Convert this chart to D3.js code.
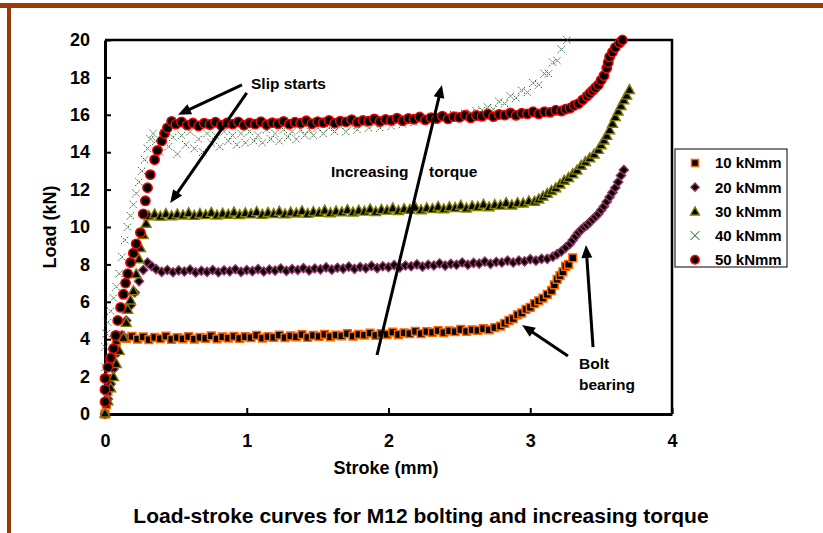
<!DOCTYPE html>
<html>
<head>
<meta charset="utf-8">
<script src="https://cdn.jsdelivr.net/npm/d3@7"></script>
<style>
  body { margin: 0; background: #fff; }
  svg { display: block; font-family: Arial, "Liberation Sans", sans-serif; font-weight: bold; }
</style>
</head>
<body>
<svg id="chart" width="823" height="533"></svg>
<script>
// axis ticks
const xTicks = [0, 1, 2, 3, 4]
const yTicks = [0, 2, 4, 6, 8, 10, 12, 14, 16, 18, 20]

const seriesNames = ['10 kNmm', '20 kNmm', '30 kNmm', '40 kNmm', '50 kNmm']

// stroke (mm), load (kN)
const load10 = [
  [0, 0], [0.01, 0.5], [0.02, 1.2], [0.03, 1.9], [0.04, 2.6], [0.06, 3.3], [0.08, 3.9], [0.11, 4.2],
  [0.15, 4.05], [0.19, 4.15], [0.23, 4.0], [0.27, 4.12], [0.31, 3.98], [0.35, 4.1], [0.39, 4.03], [0.43, 4.16],
  [0.47, 3.99], [0.51, 4.08], [0.55, 4.02], [0.59, 4.14], [0.63, 4.0], [0.67, 4.1], [0.71, 4.05], [0.75, 4.18],
  [0.79, 4.02], [0.83, 4.12], [0.87, 4.06], [0.91, 4.15], [0.95, 4.04], [0.99, 4.13], [1.03, 4.08], [1.07, 4.2],
  [1.11, 4.06], [1.15, 4.14], [1.19, 4.1], [1.23, 4.22], [1.27, 4.08], [1.31, 4.17], [1.35, 4.12], [1.39, 4.24],
  [1.43, 4.1], [1.47, 4.2], [1.51, 4.15], [1.55, 4.26], [1.59, 4.13], [1.63, 4.22], [1.67, 4.18], [1.71, 4.3],
  [1.75, 4.16], [1.79, 4.26], [1.83, 4.22], [1.87, 4.33], [1.91, 4.2], [1.95, 4.3], [1.99, 4.26], [2.03, 4.38],
  [2.07, 4.25], [2.11, 4.34], [2.15, 4.3], [2.19, 4.42], [2.23, 4.3], [2.27, 4.4], [2.31, 4.36], [2.35, 4.46],
  [2.39, 4.35], [2.43, 4.45], [2.47, 4.4], [2.51, 4.52], [2.55, 4.42], [2.59, 4.5], [2.63, 4.47], [2.67, 4.56],
  [2.71, 4.5], [2.75, 4.62], [2.79, 4.7], [2.82, 4.85], [2.85, 5.0], [2.88, 5.1], [2.91, 5.3], [2.94, 5.4],
  [2.97, 5.6], [3.0, 5.7], [3.03, 5.9], [3.06, 6.05], [3.09, 6.2], [3.12, 6.4], [3.15, 6.6], [3.17, 6.9],
  [3.19, 7.2], [3.21, 7.4], [3.23, 7.6], [3.25, 7.9], [3.27, 8.0], [3.3, 8.35]
]

const load20 = [
  [0, 0], [0.02, 0.8], [0.04, 1.6], [0.06, 2.4], [0.09, 3.3], [0.12, 4.2], [0.15, 5.0], [0.18, 5.8],
  [0.21, 6.5], [0.24, 7.1], [0.27, 7.7], [0.3, 8.1], [0.33, 7.9],
  [0.36, 7.75], [0.40, 7.6], [0.44, 7.7], [0.48, 7.58], [0.52, 7.68], [0.56, 7.62], [0.60, 7.72], [0.64, 7.57],
  [0.68, 7.66], [0.72, 7.6], [0.76, 7.7], [0.80, 7.58], [0.84, 7.68], [0.88, 7.63], [0.92, 7.74], [0.96, 7.6],
  [1.00, 7.7], [1.04, 7.64], [1.08, 7.75], [1.12, 7.62], [1.16, 7.72], [1.20, 7.67], [1.24, 7.78], [1.28, 7.65],
  [1.32, 7.75], [1.36, 7.7], [1.40, 7.8], [1.44, 7.68], [1.48, 7.78], [1.52, 7.73], [1.56, 7.84], [1.60, 7.72],
  [1.64, 7.82], [1.68, 7.77], [1.72, 7.88], [1.76, 7.76], [1.80, 7.86], [1.84, 7.8], [1.88, 7.92], [1.92, 7.8],
  [1.96, 7.9], [2.00, 7.85], [2.04, 7.96], [2.08, 7.84], [2.12, 7.94], [2.16, 7.9], [2.20, 8.0], [2.24, 7.88],
  [2.28, 7.98], [2.32, 7.94], [2.36, 8.05], [2.40, 7.93], [2.44, 8.03], [2.48, 7.98], [2.52, 8.1], [2.56, 7.98],
  [2.60, 8.08], [2.64, 8.04], [2.68, 8.15], [2.72, 8.03], [2.76, 8.13], [2.80, 8.1], [2.84, 8.2], [2.88, 8.1],
  [2.92, 8.2], [2.96, 8.16], [3.00, 8.28], [3.04, 8.2], [3.08, 8.3], [3.12, 8.3], [3.16, 8.42],
  [3.19, 8.55], [3.22, 8.7], [3.25, 8.9], [3.28, 9.1], [3.3, 9.3], [3.32, 9.5], [3.34, 9.7], [3.36, 9.85],
  [3.38, 10.0], [3.4, 10.1], [3.42, 10.25], [3.44, 10.4], [3.46, 10.55], [3.48, 10.7], [3.5, 10.9], [3.52, 11.1],
  [3.54, 11.35], [3.56, 11.6], [3.58, 11.85], [3.6, 12.1], [3.62, 12.4], [3.64, 12.75], [3.66, 13.05]
]

const load30 = [
  [0, 0.05], [0.02, 0.7], [0.04, 1.4], [0.06, 2.0], [0.08, 2.7], [0.1, 3.4], [0.13, 4.1], [0.15, 4.9],
  [0.16, 5.6], [0.18, 6.1], [0.2, 6.6], [0.22, 7.5], [0.24, 8.3], [0.25, 8.9], [0.27, 9.6], [0.29, 10.2], [0.31, 10.6],
  [0.35, 10.7], [0.39, 10.58], [0.43, 10.72], [0.47, 10.6], [0.51, 10.7], [0.55, 10.64], [0.59, 10.76], [0.63, 10.62],
  [0.67, 10.72], [0.71, 10.66], [0.75, 10.78], [0.79, 10.64], [0.83, 10.74], [0.87, 10.68], [0.91, 10.8], [0.95, 10.66],
  [0.99, 10.76], [1.03, 10.7], [1.07, 10.82], [1.11, 10.68], [1.15, 10.78], [1.19, 10.72], [1.23, 10.84], [1.27, 10.7],
  [1.31, 10.8], [1.35, 10.75], [1.39, 10.87], [1.43, 10.73], [1.47, 10.83], [1.51, 10.78], [1.55, 10.9], [1.59, 10.76],
  [1.63, 10.86], [1.67, 10.81], [1.71, 10.93], [1.75, 10.8], [1.79, 10.9], [1.83, 10.85], [1.87, 10.97], [1.91, 10.83],
  [1.95, 10.94], [1.99, 10.9], [2.03, 11.02], [2.07, 10.88], [2.11, 10.98], [2.15, 10.94], [2.19, 11.06], [2.23, 10.92],
  [2.27, 11.03], [2.31, 10.98], [2.35, 11.1], [2.39, 10.97], [2.43, 11.08], [2.47, 11.04], [2.51, 11.16], [2.55, 11.02],
  [2.59, 11.13], [2.63, 11.1], [2.67, 11.22], [2.71, 11.08], [2.75, 11.2], [2.79, 11.17], [2.83, 11.3], [2.87, 11.18],
  [2.91, 11.3], [2.95, 11.28], [2.99, 11.4], [3.03, 11.38],
  [3.06, 11.5], [3.09, 11.65], [3.12, 11.8], [3.15, 11.95], [3.18, 12.1], [3.21, 12.3], [3.24, 12.5], [3.27, 12.65],
  [3.3, 12.85], [3.33, 13.05], [3.36, 13.3], [3.39, 13.5], [3.42, 13.7], [3.45, 13.9], [3.48, 14.15], [3.5, 14.4],
  [3.52, 14.65], [3.54, 14.9], [3.56, 15.2], [3.58, 15.55], [3.6, 15.9], [3.62, 16.2], [3.64, 16.5], [3.66, 16.8],
  [3.68, 17.05], [3.7, 17.35]
]

const load40 = [
  [0, 2.5], [0, 3.6], [0.01, 4.3], [0.02, 4.9], [0.04, 5.5], [0.06, 6.2], [0.08, 6.8], [0.1, 7.5], [0.12, 8.4],
  [0.14, 9.3], [0.16, 10.0], [0.18, 10.6], [0.2, 11.2], [0.22, 11.8], [0.24, 12.4], [0.26, 13.0], [0.28, 13.6],
  [0.3, 14.2], [0.32, 14.7], [0.34, 15.0],
  [0.36, 14.6], [0.39, 14.0], [0.42, 15.0], [0.45, 14.3], [0.48, 14.8], [0.51, 13.9], [0.54, 14.9], [0.57, 14.4],
  [0.6, 15.1], [0.63, 14.2], [0.66, 14.7], [0.69, 14.0], [0.72, 15.0], [0.75, 14.5], [0.78, 14.9], [0.81, 14.3],
  [0.84, 15.1], [0.87, 14.6], [0.9, 14.9], [0.93, 14.4], [0.96, 15.0], [0.99, 14.5], [1.02, 15.1], [1.05, 14.6],
  [1.08, 14.9], [1.11, 14.5], [1.14, 15.2], [1.17, 14.7], [1.2, 15.0], [1.23, 14.6], [1.26, 15.2], [1.29, 14.8],
  [1.32, 15.1], [1.35, 14.7], [1.38, 15.2], [1.41, 14.9], [1.44, 15.2], [1.47, 14.9], [1.5, 15.3], [1.54, 15.0],
  [1.58, 15.3], [1.62, 15.1], [1.66, 15.4], [1.7, 15.1], [1.74, 15.4], [1.78, 15.2], [1.82, 15.5], [1.86, 15.3],
  [1.9, 15.5], [1.94, 15.3], [1.98, 15.6], [2.02, 15.4], [2.06, 15.6], [2.1, 15.5], [2.14, 15.7], [2.18, 15.6],
  [2.22, 15.8], [2.26, 15.7], [2.3, 15.85], [2.34, 15.75], [2.38, 15.9], [2.42, 15.85], [2.46, 16.0], [2.5, 15.95],
  [2.54, 16.05], [2.58, 16.1], [2.62, 16.2], [2.66, 16.25], [2.7, 16.4], [2.74, 16.3], [2.78, 16.7], [2.82, 16.6],
  [2.86, 17.0], [2.9, 16.9], [2.94, 17.3], [2.98, 17.2], [3.02, 17.7], [3.06, 17.6], [3.1, 18.2], [3.13, 18.2],
  [3.16, 18.8], [3.19, 18.9], [3.22, 19.5], [3.26, 20.0]
]

const load50 = [
  [0, 0.65], [0, 1.3], [0, 1.9], [0.02, 2.5], [0.04, 3.0], [0.06, 3.5], [0.075, 4.2], [0.09, 5.0], [0.11, 5.7],
  [0.13, 6.4], [0.145, 7.0], [0.16, 7.5], [0.18, 8.1], [0.2, 8.6], [0.22, 9.1], [0.25, 9.7], [0.27, 10.7],
  [0.285, 11.4], [0.3, 12.1], [0.32, 12.8], [0.35, 13.6], [0.37, 14.1], [0.4, 14.6], [0.42, 15.0], [0.44, 15.3],
  [0.47, 15.65],
  [0.50, 15.5], [0.54, 15.62], [0.58, 15.45], [0.62, 15.56], [0.66, 15.4], [0.70, 15.55], [0.74, 15.48], [0.78, 15.6],
  [0.82, 15.44], [0.86, 15.56], [0.90, 15.5], [0.94, 15.62], [0.98, 15.45], [1.02, 15.57], [1.06, 15.5], [1.10, 15.63],
  [1.14, 15.47], [1.18, 15.58], [1.22, 15.52], [1.26, 15.65], [1.30, 15.5], [1.34, 15.6], [1.38, 15.55], [1.42, 15.68],
  [1.46, 15.52], [1.50, 15.63], [1.54, 15.58], [1.58, 15.7], [1.62, 15.55], [1.66, 15.66], [1.70, 15.62], [1.74, 15.74],
  [1.78, 15.6], [1.82, 15.7], [1.86, 15.66], [1.90, 15.78], [1.94, 15.64], [1.98, 15.75], [2.02, 15.7], [2.06, 15.82],
  [2.10, 15.68], [2.14, 15.8], [2.18, 15.76], [2.22, 15.88], [2.26, 15.73], [2.30, 15.85], [2.34, 15.8], [2.38, 15.93],
  [2.42, 15.78], [2.46, 15.9], [2.50, 15.86], [2.54, 15.98], [2.58, 15.84], [2.62, 15.96], [2.66, 15.92], [2.70, 16.04],
  [2.74, 15.9], [2.78, 16.02], [2.82, 15.98], [2.86, 16.1], [2.90, 15.97], [2.94, 16.08], [2.98, 16.05], [3.02, 16.16],
  [3.06, 16.05], [3.10, 16.16], [3.14, 16.13], [3.18, 16.24], [3.22, 16.2],
  [3.25, 16.3], [3.28, 16.35], [3.31, 16.5], [3.34, 16.6], [3.37, 16.8], [3.4, 17.0], [3.42, 17.15], [3.44, 17.3],
  [3.46, 17.45], [3.48, 17.6], [3.5, 17.85], [3.52, 18.1], [3.54, 18.5], [3.55, 18.8], [3.56, 19.1], [3.58, 19.35],
  [3.6, 19.6], [3.63, 19.85], [3.65, 20.0]
]

const seriesData = [load10, load20, load30, load40, load50]

// marker look per series
const markerStyle = [
  { shape: 'square', size: 3.9, fill: '#000', stroke: '#ff6600', width: 1.5 },
  { shape: 'diamond', size: 4.6, fill: '#000', stroke: '#993366', width: 1.4 },
  { shape: 'triangle', size: 5, fill: '#000', stroke: '#808000', width: 1.4 },
  { shape: 'cross', size: 3.8, fill: 'none', stroke: '#1e5a1e', width: 1, dash: '1.6,1.2' },
  { shape: 'circle', size: 4.7, fill: '#000', stroke: '#ff0000', width: 1.5 }
]

const shapePath = (shape, s) => {
  if (shape == 'square') return `M${-s},${-s}h${2 * s}v${2 * s}h${-2 * s}Z`
  if (shape == 'diamond') return `M0,${-s}L${s},0L0,${s}L${-s},0Z`
  if (shape == 'triangle') return `M0,${-s}L${s},${s * 0.8}L${-s},${s * 0.8}Z`
  if (shape == 'cross') return `M${-s},${-s}L${s},${s}M${-s},${s}L${s},${-s}`
  return `M${s},0A${s},${s} 0 1,1 ${-s},0A${s},${s} 0 1,1 ${s},0Z`
}

const svg = d3.select('#chart')
const x = d3.scaleLinear().domain([0, 4]).range([105, 672])
const y = d3.scaleLinear().domain([0, 20]).range([414, 40])

// brown page frame
svg.append('rect').attr('x', 0).attr('y', 3).attr('width', 823).attr('height', 5).attr('fill', '#9a3a06')
svg.append('rect').attr('x', 7).attr('y', 3).attr('width', 4).attr('height', 530).attr('fill', '#9a3a06')

// plot box top + right
svg.append('path')
  .attr('d', `M${x(0)},${y(20)}H${x(4)}V${y(0)}`)
  .attr('fill', 'none')
  .attr('stroke', '#000')
  .attr('stroke-width', 2.5)

const yAxis = d3.axisLeft(y).tickValues(yTicks).tickFormat(d3.format('d'))
  .tickSizeInner(-6).tickSizeOuter(0).tickPadding(15)
const xAxis = d3.axisBottom(x).tickValues(xTicks).tickFormat(d3.format('d'))
  .tickSizeInner(-6).tickSizeOuter(0).tickPadding(20)

const gy = svg.append('g').attr('transform', `translate(${x(0)},0)`).call(yAxis)
const gx = svg.append('g').attr('transform', `translate(0,${y(0)})`).call(xAxis)

;[gx, gy].forEach(g => {
  g.select('.domain').attr('stroke', '#000').attr('stroke-width', 3)
  g.selectAll('.tick line').attr('stroke', '#000').attr('stroke-width', 2)
  g.selectAll('.tick text')
    .attr('fill', '#000')
    .style('font-family', 'Arial, "Liberation Sans", sans-serif')
    .style('font-weight', 'bold')
    .style('font-size', '18px')
})

// axis titles
svg.append('text')
  .attr('x', 386).attr('y', 474)
  .attr('text-anchor', 'middle')
  .style('font-size', '18px')
  .text('Stroke (mm)')

svg.append('text')
  .attr('transform', 'translate(56,227) rotate(-90)')
  .attr('text-anchor', 'middle')
  .style('font-size', '18px')
  .text('Load (kN)')

// data points
seriesData.forEach((data, i) => {
  const st = markerStyle[i]
  svg.append('g')
    .attr('class', 'series s' + i)
    .selectAll('path')
    .data(data)
    .enter()
    .append('path')
    .attr('transform', d => `translate(${x(d[0])},${y(d[1])})`)
    .attr('d', shapePath(st.shape, st.size))
    .attr('fill', st.fill)
    .attr('stroke', st.stroke)
    .attr('stroke-width', st.width)
    .attr('stroke-dasharray', st.dash || null)
})

// annotations
const drawArrow = (x1, y1, x2, y2) => {
  const px1 = x(x1), py1 = y(y1), px2 = x(x2), py2 = y(y2)
  const len = Math.hypot(px2 - px1, py2 - py1)
  const ux = (px2 - px1) / len, uy = (py2 - py1) / len
  const headL = 13, headW = 5.5
  const bx = px2 - ux * headL, by = py2 - uy * headL
  svg.append('line')
    .attr('x1', px1).attr('y1', py1)
    .attr('x2', bx + ux * 2).attr('y2', by + uy * 2)
    .attr('stroke', '#000')
    .attr('stroke-width', 3)
  svg.append('path')
    .attr('d', `M${px2},${py2}L${bx - uy * headW},${by + ux * headW}L${bx + uy * headW},${by - ux * headW}Z`)
    .attr('fill', '#000')
}

drawArrow(0.966, 17.6, 0.515, 16.0)
drawArrow(1.0, 17.17, 0.46, 11.28)
drawArrow(1.919, 3.155, 2.377, 17.6)
drawArrow(3.266, 3.1, 2.942, 4.76)
drawArrow(3.443, 3.58, 3.393, 9.04)

const notes = [
  { text: 'Slip starts', sx: 1.03, sy: 17.38 },
  { text: 'Increasing', sx: 1.594, sy: 12.67 },
  { text: 'torque', sx: 2.286, sy: 12.67 },
  { text: 'Bolt', sx: 3.344, sy: 2.406 },
  { text: 'bearing', sx: 3.344, sy: 1.283 }
]

svg.selectAll('.note')
  .data(notes)
  .enter()
  .append('text')
  .attr('class', 'note')
  .attr('x', d => x(d.sx))
  .attr('y', d => y(d.sy))
  .style('font-size', '15.5px')
  .text(d => d.text)

// legend
const legend = svg.append('g').attr('transform', 'translate(675,149)')
legend.append('rect')
  .attr('width', 112).attr('height', 118)
  .attr('fill', '#fff')
  .attr('stroke', '#000')
  .attr('stroke-width', 1)

seriesNames.forEach((name, i) => {
  const st = markerStyle[i]
  const ly = 14 + i * 24.2
  legend.append('path')
    .attr('transform', `translate(20,${ly})`)
    .attr('d', shapePath(st.shape, st.shape == 'cross' ? 4.5 : st.size * 0.9))
    .attr('fill', st.fill)
    .attr('stroke', st.stroke)
    .attr('stroke-width', st.shape == 'cross' ? 1 : st.width)
  legend.append('text')
    .attr('x', 40).attr('y', ly)
    .attr('dy', '0.36em')
    .style('font-size', '15px')
    .text(name)
})

// caption
svg.append('text')
  .attr('x', 421).attr('y', 523)
  .attr('text-anchor', 'middle')
  .style('font-size', '21px')
  .text('Load-stroke curves for M12 bolting and increasing torque')
</script>
</body>
</html>
